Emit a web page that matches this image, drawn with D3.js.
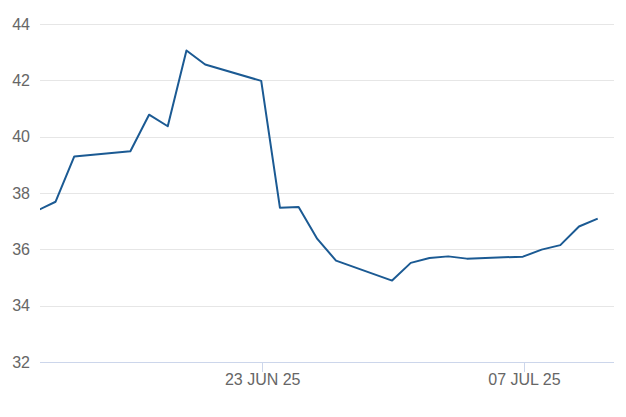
<!DOCTYPE html>
<html>
<head>
<meta charset="utf-8">
<script src="https://cdn.jsdelivr.net/npm/d3@7"></script>
<style>
  body { margin: 0; background: #fff; }
  svg { display: block; }
  .yLabel, .xLabel { font-family: "Liberation Sans", Arial, sans-serif; font-size: 16px; fill: #666; }
</style>
</head>
<body>
<div id="chart"></div>
<script>
const W = 626, H = 417;

// trading days (weekends skipped)
const dates = [
    "2025-06-11", "2025-06-12", "2025-06-13", "2025-06-16", "2025-06-17",
    "2025-06-18", "2025-06-19", "2025-06-20", "2025-06-23", "2025-06-24",
    "2025-06-25", "2025-06-26", "2025-06-27", "2025-06-30", "2025-07-01",
    "2025-07-02", "2025-07-03", "2025-07-04", "2025-07-07", "2025-07-08",
    "2025-07-09", "2025-07-10", "2025-07-11"
];
const values = [
    37.37, 37.69, 39.30, 39.48, 40.78,
    40.37, 43.06, 42.56, 41.98, 37.48,
    37.50, 36.37, 35.60, 34.89, 35.52,
    35.69, 35.75, 35.67, 35.74, 35.99,
    36.15, 36.81, 37.09
];
const yTicks = [32, 34, 36, 38, 40, 42, 44];
const xTicks = ["2025-06-23", "2025-07-07"];
const xTickLabels = ["23 JUN 25", "07 JUL 25"];

const parse = d3.utcParse("%Y-%m-%d");
const data = dates.map((d, i) => ({ date: parse(d), value: values[i] }));

const plot = { left: 40, right: 614, top: 24, bottom: 362 };

const x = d3.scaleUtc()
    .domain([parse("2025-06-12"), parse("2025-07-11")])
    .range([55.6, 597.7]);

const y = d3.scaleLinear()
    .domain([32, 44])
    .range([plot.bottom, plot.top]);

const svg = d3.select("#chart").append("svg")
    .attr("width", W)
    .attr("height", H);

svg.append("clipPath")
    .attr("id", "plotClip")
    .append("rect")
    .attr("x", plot.left)
    .attr("y", 0)
    .attr("width", plot.right - plot.left)
    .attr("height", H);

// gridlines
svg.append("g")
    .selectAll("line")
    .data(yTicks)
    .enter()
    .append("line")
    .attr("x1", plot.left)
    .attr("x2", plot.right)
    .attr("y1", d => Math.round(y(d)) + 0.5)
    .attr("y2", d => Math.round(y(d)) + 0.5)
    .style("stroke", d => d === 32 ? "#ccd6eb" : "#e6e6e6")
    .style("stroke-width", 1);

svg.append("g")
    .selectAll("text")
    .data(yTicks)
    .enter()
    .append("text")
    .attr("class", "yLabel")
    .attr("x", 30)
    .attr("y", d => y(d) + 5.5)
    .attr("text-anchor", "end")
    .text(d => d);

// x ticks
const xg = svg.append("g");
xg.selectAll("line")
    .data(xTicks)
    .enter()
    .append("line")
    .attr("x1", d => Math.round(x(parse(d)) + 1) + 0.5)
    .attr("x2", d => Math.round(x(parse(d)) + 1) + 0.5)
    .attr("y1", plot.bottom)
    .attr("y2", plot.bottom + 10)
    .style("stroke", "#ccd6eb");

xg.selectAll("text")
    .data(xTicks)
    .enter()
    .append("text")
    .attr("class", "xLabel")
    .attr("x", d => x(parse(d)) + 1.5)
    .attr("y", 384.5)
    .attr("text-anchor", "middle")
    .text((d, i) => xTickLabels[i]);

const line = d3.line()
    .x(d => x(d.date))
    .y(d => y(d.value));

svg.append("path")
    .datum(data)
    .attr("d", line)
    .attr("clip-path", "url(#plotClip)")
    .style("fill", "none")
    .style("stroke", "#1b5a93")
    .style("stroke-width", 2)
    .style("stroke-linejoin", "round");
</script>
</body>
</html>
